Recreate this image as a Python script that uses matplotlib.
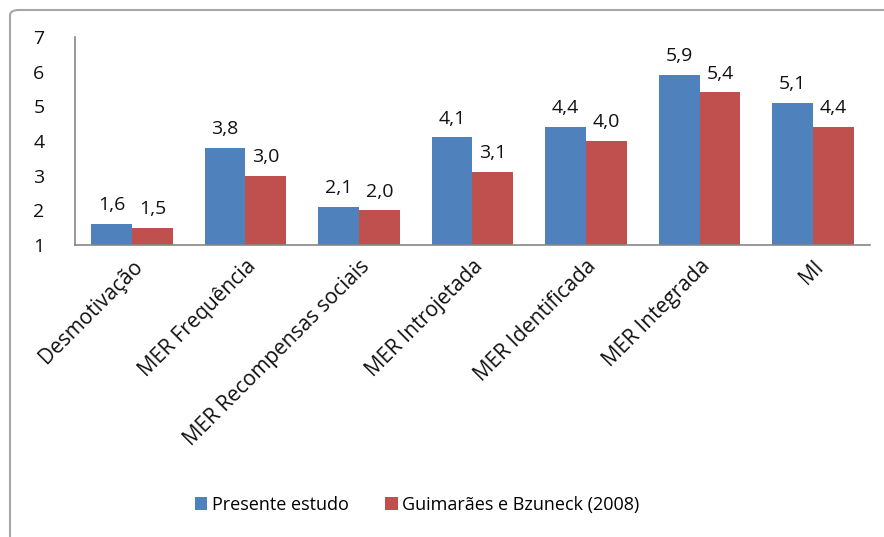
import numpy as np
import matplotlib.pyplot as plt
from matplotlib.patches import FancyBboxPatch

categories = ['Desmotivação', 'MER Frequência', 'MER Recompensas sociais',
              'MER Introjetada', 'MER Identificada', 'MER Integrada', 'MI']
presente = [1.6, 3.8, 2.1, 4.1, 4.4, 5.9, 5.1]
guimaraes = [1.5, 3.0, 2.0, 3.1, 4.0, 5.4, 4.4]
series_names = ['Presente estudo', 'Guimarães e Bzuneck (2008)']

plt.rcParams['font.family'] = ['Open Sans', 'DejaVu Sans']

fig = plt.figure(figsize=(8.84, 5.37), dpi=100)
ax = fig.add_axes([0.085, 0.544, 0.899, 0.387])

# outer chart frame (cropped on right/bottom like the reference)
frame = FancyBboxPatch((10 / 884, -0.05), 1.2, 1 - 10 / 537 + 0.05,
                       boxstyle='round,pad=0,rounding_size=0.01',
                       transform=fig.transFigure, fill=False,
                       edgecolor='#a6a6a6', linewidth=1.5)
fig.patches.append(frame)

x = np.arange(len(categories))
w = 0.36
base = 1
b1 = ax.bar(x - w / 2, np.array(presente) - base, w, bottom=base,
            color='#4F81BD', label=series_names[0])
b2 = ax.bar(x + w / 2, np.array(guimaraes) - base, w, bottom=base,
            color='#C0504D', label=series_names[1])

for bars, vals in ((b1, presente), (b2, guimaraes)):
    for rect, v in zip(bars, vals):
        ax.annotate(f'{v:.1f}'.replace('.', ','),
                    (rect.get_x() + rect.get_width() / 2, v),
                    xytext=(0, 7), textcoords='offset points',
                    ha='center', va='bottom', fontsize=14, color='#111111')

ax.set_xlim(-0.5, len(categories) - 0.5)
ax.set_ylim(1, 7)
ax.set_yticks(range(1, 8))
ax.tick_params(axis='y', length=0, pad=22, labelsize=14, labelcolor='#111111')
ax.tick_params(axis='x', length=0, pad=8, labelsize=15, labelcolor='#111111')
ax.set_xticks(x)
ax.set_xticklabels(categories, rotation=45, ha='right', rotation_mode='anchor')

for s in ('top', 'right'):
    ax.spines[s].set_visible(False)
for s in ('left', 'bottom'):
    ax.spines[s].set_color('#868686')
    ax.spines[s].set_linewidth(1.2)

fig.legend(loc='center', bbox_to_anchor=(417 / 884, 1 - 505 / 537), ncol=2,
           frameon=False, fontsize=13, handlelength=0.7, handleheight=0.7,
           handletextpad=0.25, columnspacing=2.0)

fig.savefig('out.png', dpi=100)
